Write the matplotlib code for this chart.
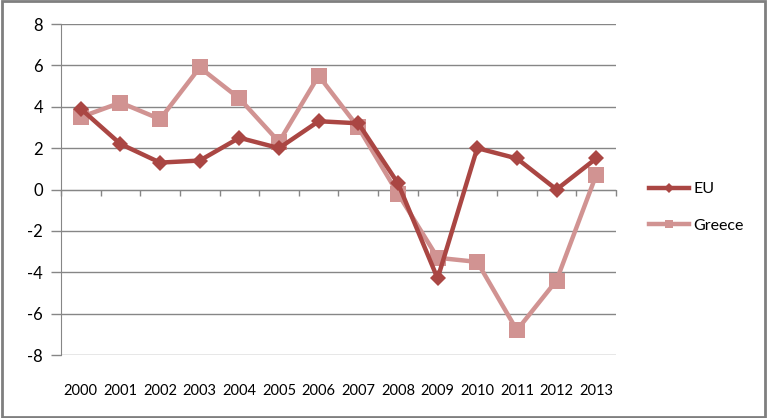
import matplotlib
matplotlib.use('Agg')
import matplotlib.pyplot as plt
from matplotlib.patches import Rectangle

# Data
years = ['2000', '2001', '2002', '2003', '2004', '2005', '2006',
         '2007', '2008', '2009', '2010', '2011', '2012', '2013']
eu = [3.9, 2.2, 1.3, 1.4, 2.5, 2.0, 3.3, 3.2, 0.3, -4.3, 2.0, 1.5, 0.0, 1.5]
greece = [3.5, 4.2, 3.4, 5.9, 4.4, 2.3, 5.5, 3.0, -0.2, -3.3, -3.5, -6.8, -4.4, 0.7]
y_ticks = [-8, -6, -4, -2, 0, 2, 4, 6, 8]

plt.rcParams['font.family'] = ['Lato', 'DejaVu Sans']
plt.rcParams['axes.unicode_minus'] = False

grid_col = '#868686'
eu_col = '#AA4643'
gr_col = '#D19392'

fig = plt.figure(figsize=(7.67, 4.18), dpi=100)
ax = fig.add_axes([61 / 767, 63 / 418, 555 / 767, 331 / 418])

x = list(range(len(years)))

ax.plot(x, greece, color=gr_col, lw=3.2, marker='s', ms=11.5,
        markeredgewidth=0, label='Greece', zorder=3)
ax.plot(x, eu, color=eu_col, lw=3.2, marker='D', ms=8.5,
        markeredgewidth=0, label='EU', zorder=4)

ax.set_xlim(-0.5, len(years) - 0.5)
ax.set_ylim(-8, 8)
ax.set_yticks(y_ticks)
ax.yaxis.grid(True, color=grid_col, lw=1)
ax.set_axisbelow(True)

for s in ['top', 'right']:
    ax.spines[s].set_visible(False)
ax.spines['left'].set_color(grid_col)
ax.spines['bottom'].set_position(('data', 0))
ax.spines['bottom'].set_color(grid_col)

# category boundaries as ticks on the zero axis
ax.set_xticks([i - 0.5 for i in range(len(years) + 1)])
ax.set_xticklabels([])
ax.tick_params(axis='x', direction='out', length=4, color=grid_col, width=1)
ax.tick_params(axis='y', direction='out', length=7, color=grid_col, width=1,
               pad=6, labelsize=12)

# year labels below the plot area
sec = ax.secondary_xaxis(0)
sec.set_xticks(x, labels=years)
sec.tick_params(length=0, pad=21, labelsize=10.5)
sec.spines['bottom'].set_visible(False)

leg = ax.legend(handles=[ax.lines[1], ax.lines[0]], loc='center left',
                bbox_to_anchor=(1.033, 0.446), frameon=False, fontsize=11.5,
                handlelength=2.5, labelspacing=1.4, handletextpad=0.3,
                markerscale=0.55)

# outer chart border
fig.patches.append(Rectangle((0.002, 0.003), 0.996, 0.994, transform=fig.transFigure,
                             fill=False, edgecolor='#7f7f7f', lw=2))

fig.savefig('out.png', dpi=100)
